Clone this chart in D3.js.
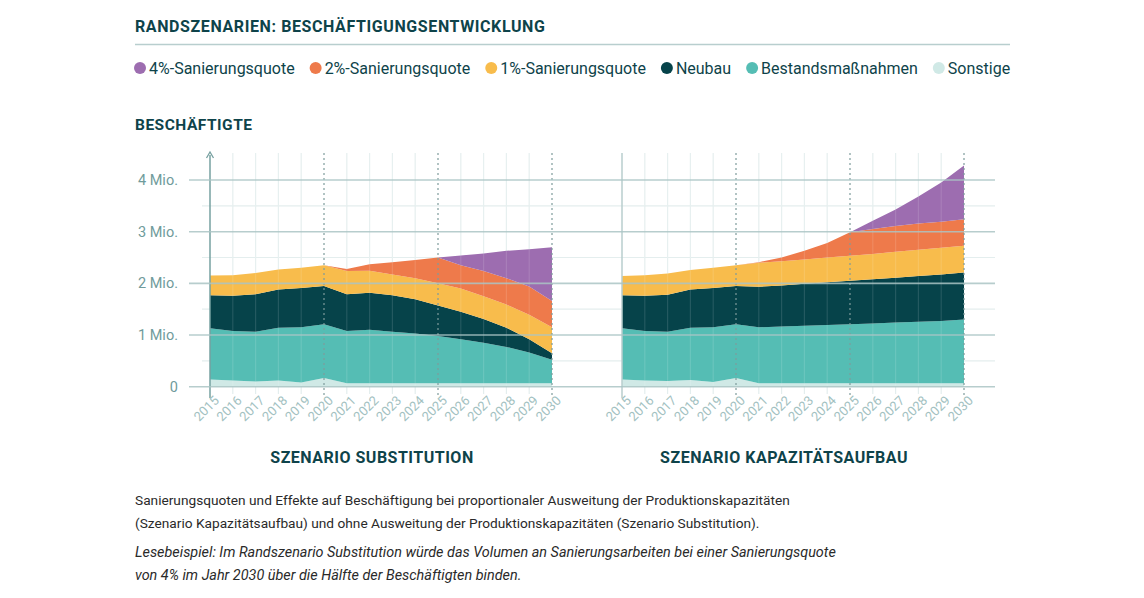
<!DOCTYPE html>
<html>
<head>
<meta charset="utf-8">
<script src="https://cdn.jsdelivr.net/npm/d3@7"></script>
<style>
  body { margin: 0; background: #fff; }
  svg { font-family: Roboto, "Noto Sans", sans-serif; }
</style>
</head>
<body>
<svg id="chart" width="1144" height="598"></svg>
<script>
// Jahre
var years = [2015, 2016, 2017, 2018, 2019, 2020, 2021, 2022, 2023, 2024, 2025, 2026, 2027, 2028, 2029, 2030];

// Szenario Substitution (Mio. Beschäftigte je Kategorie)
var subSonstige = [0.14, 0.12, 0.10, 0.12, 0.08, 0.17, 0.065, 0.065, 0.065, 0.065, 0.065, 0.065, 0.065, 0.065, 0.065, 0.065];
var subBestand  = [0.99, 0.96, 0.965, 1.02, 1.07, 1.04, 1.015, 1.035, 1.00, 0.965, 0.915, 0.855, 0.785, 0.705, 0.595, 0.455];
var subNeubau   = [0.64, 0.68, 0.725, 0.74, 0.76, 0.74, 0.71, 0.72, 0.705, 0.66, 0.59, 0.53, 0.46, 0.37, 0.26, 0.125];
var subQuote1   = [0.38, 0.395, 0.41, 0.39, 0.39, 0.40, 0.45, 0.425, 0.40, 0.41, 0.43, 0.45, 0.44, 0.45, 0.47, 0.505];
var subQuote2   = [0, 0, 0, 0, 0, 0, 0.04, 0.125, 0.24, 0.35, 0.50, 0.45, 0.49, 0.51, 0.55, 0.51];
var subQuote4   = [0, 0, 0, 0, 0, 0, 0, 0, 0, 0, 0, 0.19, 0.34, 0.53, 0.72, 1.04];

// Szenario Kapazitätsaufbau
var kapSonstige = [0.14, 0.12, 0.11, 0.13, 0.09, 0.17, 0.065, 0.065, 0.065, 0.065, 0.065, 0.065, 0.065, 0.065, 0.065, 0.065];
var kapBestand  = [0.99, 0.96, 0.955, 1.01, 1.06, 1.04, 1.085, 1.10, 1.115, 1.13, 1.145, 1.16, 1.175, 1.19, 1.205, 1.235];
var kapNeubau   = [0.64, 0.68, 0.715, 0.74, 0.76, 0.74, 0.785, 0.795, 0.81, 0.825, 0.84, 0.855, 0.87, 0.885, 0.90, 0.91];
var kapQuote1   = [0.37, 0.395, 0.41, 0.38, 0.39, 0.40, 0.465, 0.47, 0.47, 0.48, 0.485, 0.49, 0.50, 0.51, 0.52, 0.52];
var kapQuote2   = [0, 0, 0, 0, 0, 0, 0.01, 0.07, 0.17, 0.28, 0.455, 0.48, 0.50, 0.51, 0.50, 0.51];
var kapQuote4   = [0, 0, 0, 0, 0, 0, 0, 0, 0, 0, 0, 0.16, 0.32, 0.52, 0.76, 1.04];

var yTicks = [0, 1, 2, 3, 4];
var yTickLabels = ["0", "1 Mio.", "2 Mio.", "3 Mio.", "4 Mio."];
var dottedYears = [2020, 2025, 2030];

var keys = ["sonstige", "bestand", "neubau", "q1", "q2", "q4"];
var legendItems = [
  { key: "q4", label: "4%-Sanierungsquote" },
  { key: "q2", label: "2%-Sanierungsquote" },
  { key: "q1", label: "1%-Sanierungsquote" },
  { key: "neubau", label: "Neubau" },
  { key: "bestand", label: "Bestandsmaßnahmen" },
  { key: "sonstige", label: "Sonstige" }
];
var colors = {
  q4: "#9d6db0",
  q2: "#ee7a4b",
  q1: "#f8bc4c",
  neubau: "#06434a",
  bestand: "#55bdb4",
  sonstige: "#d0e9e6"
};

var dark = "#0e434a";
var svg = d3.select("#chart");

// Kopf
svg.append("text").attr("x", 135).attr("y", 32)
  .attr("font-size", 16).attr("font-weight", 700).attr("fill", dark)
  .attr("letter-spacing", 0.6)
  .text("RANDSZENARIEN: BESCHÄFTIGUNGSENTWICKLUNG");
svg.append("line").attr("x1", 135).attr("x2", 1010).attr("y1", 44.5).attr("y2", 44.5)
  .attr("stroke", "#b8cece").attr("stroke-width", 1.5);

// Legende
var lx = 134;
var legend = svg.append("g");
legendItems.forEach(function(it) {
  var g = legend.append("g").attr("transform", "translate(" + lx + ",0)");
  g.append("circle").attr("cx", 6).attr("cy", 68).attr("r", 6).attr("fill", colors[it.key]);
  var t = g.append("text").attr("x", 15).attr("y", 73.5).attr("font-size", 16)
    .attr("fill", dark).text(it.label);
  lx += 15 + t.node().getComputedTextLength() + 15;
});

svg.append("text").attr("x", 135).attr("y", 130)
  .attr("font-size", 15.5).attr("font-weight", 700).attr("fill", dark)
  .attr("letter-spacing", 0.5).text("BESCHÄFTIGTE");

// Skalen
var y = d3.scaleLinear().domain([0, 4]).range([386.7, 180]);
var xSub = d3.scaleLinear().domain([2015, 2030]).range([210, 552]);
var xKap = d3.scaleLinear().domain([2015, 2030]).range([622, 964]);

function rows(a, b, c, d, e, f) {
  return years.map(function(yr, i) {
    return { year: yr, sonstige: a[i], bestand: b[i], neubau: c[i], q1: d[i], q2: e[i], q4: f[i] };
  });
}
var stack = d3.stack().keys(keys);
var subSeries = stack(rows(subSonstige, subBestand, subNeubau, subQuote1, subQuote2, subQuote4));
var kapSeries = stack(rows(kapSonstige, kapBestand, kapNeubau, kapQuote1, kapQuote2, kapQuote4));

var gridG = svg.append("g");
var areaG = svg.append("g");
var overG = svg.append("g");

// horizontale Linien (beide Panels durchgehend)
var halfTicks = [0.5, 1.5, 2.5, 3.5];
halfTicks.forEach(function(v) {
  gridG.append("line").attr("x1", 202).attr("x2", 995)
    .attr("y1", y(v)).attr("y2", y(v))
    .attr("stroke", "#e4eeee").attr("stroke-width", 1.2);
});

function panel(x, series, solidAxis) {
  // vertikale Jahreslinien
  years.forEach(function(yr) {
    if (dottedYears.indexOf(yr) >= 0 || yr === 2015) return;
    gridG.append("line").attr("x1", x(yr)).attr("x2", x(yr))
      .attr("y1", 153).attr("y2", 394)
      .attr("stroke", "#e4eeee").attr("stroke-width", 1.2);
  });

  var area = d3.area()
    .x(function(d) { return x(d.data.year); })
    .y0(function(d) { return y(d[0]); })
    .y1(function(d) { return y(d[1]); });

  areaG.selectAll(null).data(series).enter().append("path")
    .attr("d", area)
    .attr("fill", function(d) { return colors[d.key]; });

  // Linien leicht über den Flächen
  years.forEach(function(yr) {
    if (dottedYears.indexOf(yr) >= 0 || yr === 2015) return;
    overG.append("line").attr("x1", x(yr)).attr("x2", x(yr))
      .attr("y1", y(0)).attr("y2", 153)
      .attr("stroke", "#ffffff").attr("stroke-opacity", 0.12).attr("stroke-width", 1.2);
  });

  dottedYears.forEach(function(yr) {
    overG.append("line").attr("x1", x(yr)).attr("x2", x(yr))
      .attr("y1", 153).attr("y2", 398)
      .attr("stroke", "#7e9c9c").attr("stroke-width", 1.2)
      .attr("stroke-dasharray", "2,3");
  });

  overG.append("line").attr("x1", x(2015)).attr("x2", x(2015))
    .attr("y1", solidAxis ? 155 : 153).attr("y2", 398)
    .attr("stroke", solidAxis ? "#76a0a0" : "#b8cece").attr("stroke-width", 1.5);

  // x Achsenbeschriftung
  var xAxis = d3.axisBottom(x).tickValues(years).tickFormat(d3.format("d")).tickSize(0);
  var ax = overG.append("g").attr("transform", "translate(0,394)").call(xAxis);
  ax.select(".domain").remove();
  ax.selectAll("text")
    .attr("font-family", "Roboto, sans-serif")
    .attr("font-size", 13).attr("fill", "#a2c1c1")
    .attr("text-anchor", "end")
    .attr("dy", "0.35em")
    .attr("transform", "translate(4,2) rotate(-45)");
}

panel(xSub, subSeries, true);
panel(xKap, kapSeries, false);

// Hauptlinien über den Flächen
yTicks.forEach(function(v) {
  overG.append("line").attr("x1", 189).attr("x2", 995)
    .attr("y1", y(v)).attr("y2", y(v))
    .attr("stroke", "#aac4c4").attr("stroke-opacity", 0.85).attr("stroke-width", 1.6);
});

// y-Achse Pfeil
overG.append("path")
  .attr("d", "M206.5,158 L210,152 L213.5,158")
  .attr("fill", "none").attr("stroke", "#76a0a0").attr("stroke-width", 1.3);

var yAxis = d3.axisLeft(y).tickValues(yTicks).tickFormat(function(d, i) { return yTickLabels[i]; }).tickSize(0);
var ay = overG.append("g").attr("transform", "translate(178,0)").call(yAxis);
ay.select(".domain").remove();
ay.selectAll("text").attr("font-family", "Roboto, sans-serif")
  .attr("font-size", 14.5).attr("fill", "#6f9b9b").attr("x", 0);

// Panel-Titel
svg.append("text").attr("x", 372).attr("y", 463).attr("text-anchor", "middle")
  .attr("font-size", 16).attr("font-weight", 700).attr("fill", dark).attr("letter-spacing", 0.5)
  .text("SZENARIO SUBSTITUTION");
svg.append("text").attr("x", 784).attr("y", 463).attr("text-anchor", "middle")
  .attr("font-size", 16).attr("font-weight", 700).attr("fill", dark).attr("letter-spacing", 0.5)
  .text("SZENARIO KAPAZITÄTSAUFBAU");

// Beschreibung
var cap = [
  { t: "Sanierungsquoten und Effekte auf Beschäftigung bei proportionaler Ausweitung der Produktionskapazitäten", y: 505, it: false },
  { t: "(Szenario Kapazitätsaufbau) und ohne Ausweitung der Produktionskapazitäten (Szenario Substitution).", y: 528, it: false },
  { t: "Lesebeispiel: Im Randszenario Substitution würde das Volumen an Sanierungsarbeiten bei einer Sanierungsquote", y: 557, it: true },
  { t: "von 4% im Jahr 2030 über die Hälfte der Beschäftigten binden.", y: 580, it: true }
];
cap.forEach(function(c) {
  svg.append("text").attr("x", 135).attr("y", c.y)
    .attr("font-size", c.it ? 14.4 : 13.7).attr("fill", "#2a2a2a")
    .attr("font-style", c.it ? "italic" : "normal")
    .text(c.t);
});
</script>
</body>
</html>
